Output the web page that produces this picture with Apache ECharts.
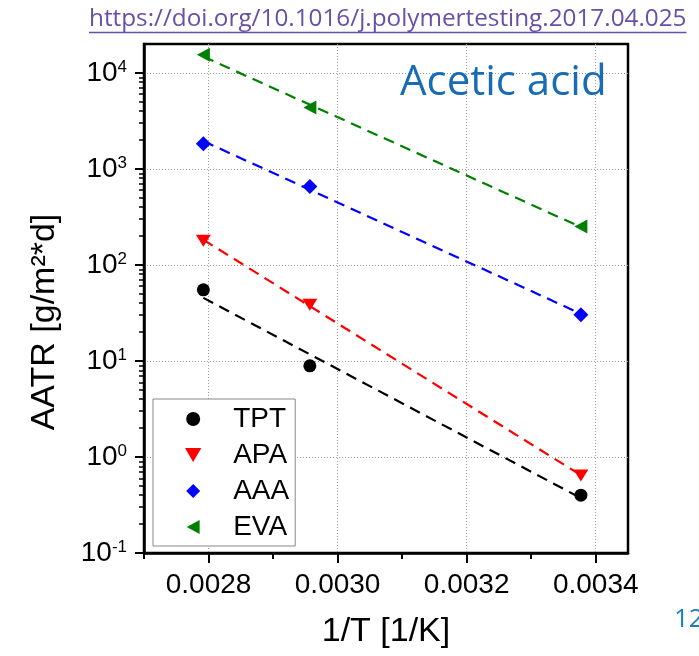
<!DOCTYPE html>
<html><head><meta charset="utf-8">
<script src="https://cdn.jsdelivr.net/npm/echarts@6/dist/echarts.min.js"></script>
<style>html,body{margin:0;padding:0;background:#fff}#c{width:699px;height:656px}</style>
</head><body><div id="c"></div>
<script>
// ---- data ----
const seriesNames = ['TPT', 'APA', 'AAA', 'EVA'];
const invT = [0.002792, 0.002957, 0.003377];
const tptValues = [55, 8.9, 0.40];
const apaValues = [179, 38.5, 0.64];
const aaaValues = [1833, 658, 30.3];
const evaValues = [15500, 4375, 252];
const fitX = [0.002792, 0.003377];
const tptFit = [45.4, 0.373];
const apaFit = [183, 0.646];
const aaaFit = [1950, 31.0];
const evaFit = [14800, 248];
const xTickValues = [0.0028, 0.0030, 0.0032, 0.0034];
const xMinorTickValues = [0.0027, 0.0029, 0.0031, 0.0033];
const yTickValues = [0.1, 1, 10, 100, 1000, 10000];
const yMinorTickValues = [0.2, 0.3, 0.4, 0.5, 0.6, 0.7, 0.8, 0.9,
  2, 3, 4, 5, 6, 7, 8, 9, 20, 30, 40, 50, 60, 70, 80, 90,
  200, 300, 400, 500, 600, 700, 800, 900, 2000, 3000, 4000, 5000, 6000, 7000, 8000, 9000];
const xTitle = '1/T [1/K]';
const yTitle = 'AATR [g/m\u00B2*d]';
const annotation = 'Acetic acid';
const doiText = 'https://doi.org/10.1016/j.polymertesting.2017.04.025';
const pageNumber = '12';

// ---- styles ----
const colors = ['#000000', '#ff0000', '#0000ff', '#008000'];
const symbols = ['circle', 'path://M0,0 L14,0 L7,12 Z', 'path://M7,0 L14,7 L7,14 L0,7 Z', 'path://M12,0 L12,13 L0,6.5 Z'];
const symbolSizes = [13, [15, 12], 15, [13, 14]];
const FONT = 'Liberation Sans, Arial, sans-serif';
const X_MIN = 0.0027, X_MAX = 0.00345, Y_MIN = 0.1, Y_MAX = 20000;

const valueSets = [tptValues, apaValues, aaaValues, evaValues];
const fitSets = [tptFit, apaFit, aaaFit, evaFit];

const series = [];
seriesNames.forEach((n, i) => {
  series.push({
    name: n + ' fit', type: 'line', silent: true, symbol: 'none', z: 2,
    data: fitX.map((x, j) => [x, fitSets[i][j]]),
    lineStyle: { color: colors[i], width: 2.2, type: [11, 7] }
  });
});
seriesNames.forEach((n, i) => {
  series.push({
    name: n, type: 'scatter', z: 3,
    symbol: symbols[i], symbolSize: symbolSizes[i],
    itemStyle: { color: colors[i], opacity: 1 },
    data: invT.map((x, j) => [x, valueSets[i][j]])
  });
});

function supLabel(v) {
  const e = Math.round(Math.log10(v));
  if (Math.abs(Math.log10(v) - e) > 1e-6) return '';
  return '{b|10}{s|' + e + '}';
}

const cv = document.createElement('canvas').getContext('2d');
const doiFontSize = 24.3;
cv.font = doiFontSize + 'px "Open Sans"';
const doiWidth = cv.measureText(doiText).width;
const doiLeft = 89;

const chart = echarts.init(document.getElementById('c'), null, { renderer: 'canvas' });
chart.setOption({
  animation: false,
  backgroundColor: '#ffffff',
  grid: { left: 144, right: 71, top: 44, bottom: 103, show: true, borderColor: '#000', borderWidth: 2.5, backgroundColor: 'transparent' },
  xAxis: [{
    type: 'value', min: X_MIN, max: X_MAX, position: 'bottom',
    axisLine: { show: true, onZero: false, lineStyle: { color: '#000', width: 2.5 } },
    axisTick: { show: true, inside: false, length: 10, customValues: xTickValues, lineStyle: { color: '#000', width: 2 } },
    axisLabel: { customValues: xTickValues, formatter: v => v.toFixed(4), fontSize: 28, color: '#000', fontFamily: FONT, margin: 18 },
    splitLine: { show: true, lineStyle: { color: '#9a9a9a', width: 1, type: [1, 2] } }
  }, {
    type: 'value', min: X_MIN, max: X_MAX, position: 'bottom',
    axisLine: { show: false, onZero: false },
    axisTick: { show: true, inside: false, length: 6, customValues: xMinorTickValues, lineStyle: { color: '#000', width: 2 } },
    axisLabel: { show: false },
    splitLine: { show: false }
  }],
  yAxis: [{
    type: 'log', logBase: 10, min: Y_MIN, max: Y_MAX, position: 'left',
    axisLine: { show: true, onZero: false, lineStyle: { color: '#000', width: 2.5 } },
    axisTick: { show: true, inside: false, length: 9, customValues: yTickValues, lineStyle: { color: '#000', width: 2 } },
    axisLabel: {
      customValues: yTickValues, formatter: supLabel, margin: 17, color: '#000',
      rich: {
        b: { fontSize: 28, fontFamily: FONT, color: '#000', lineHeight: 28 },
        s: { fontSize: 17, fontFamily: FONT, color: '#000', verticalAlign: 'top', lineHeight: 17 }
      }
    },
    splitLine: { show: true, lineStyle: { color: '#9a9a9a', width: 1, type: [1, 2] } }
  }, {
    type: 'log', logBase: 10, min: Y_MIN, max: Y_MAX, position: 'left',
    axisLine: { show: false, onZero: false },
    axisTick: { show: true, inside: false, length: 5, customValues: yMinorTickValues, lineStyle: { color: '#000', width: 1.5 } },
    axisLabel: { show: false },
    splitLine: { show: false }
  }],
  legend: {
    data: seriesNames, orient: 'vertical', left: 153, top: 399,
    padding: [6, 6, 5, 32], itemWidth: 70, itemHeight: 14, itemGap: 8,
    borderColor: '#888', borderWidth: 1, backgroundColor: '#fff',
    selectedMode: false, z: 5,
    textStyle: { fontSize: 28, fontFamily: FONT, color: '#000' }
  },
  graphic: [
    { type: 'text', x: 45, y: 322, rotation: Math.PI / 2,
      style: { text: yTitle, fontSize: 34, fontFamily: FONT, fill: '#000', align: 'center', verticalAlign: 'middle' } },
    { type: 'text', x: 386, y: 632,
      style: { text: xTitle, fontSize: 34, fontFamily: FONT, fill: '#000', align: 'center', verticalAlign: 'middle' } },
    { type: 'text', x: 400, y: 83, z: 10,
      style: { text: annotation, fontSize: 42, fontFamily: 'Open Sans', fill: '#176cb5', align: 'left', verticalAlign: 'middle' } },
    { type: 'text', x: 674, y: 620,
      style: { text: pageNumber, fontSize: 26, fontFamily: 'Open Sans', fill: '#1b7fbf', align: 'left', verticalAlign: 'middle' } },
    { type: 'text', x: doiLeft, y: 18.6,
      style: { text: doiText, fontSize: doiFontSize, fontFamily: 'Open Sans', fill: '#6650a8', align: 'left', verticalAlign: 'middle' } },
    { type: 'line', shape: { x1: doiLeft, y1: 32.5, x2: doiLeft + doiWidth, y2: 32.5 }, style: { stroke: '#6650a8', lineWidth: 1.3 } }
  ],
  series: series
});
</script></body></html>
